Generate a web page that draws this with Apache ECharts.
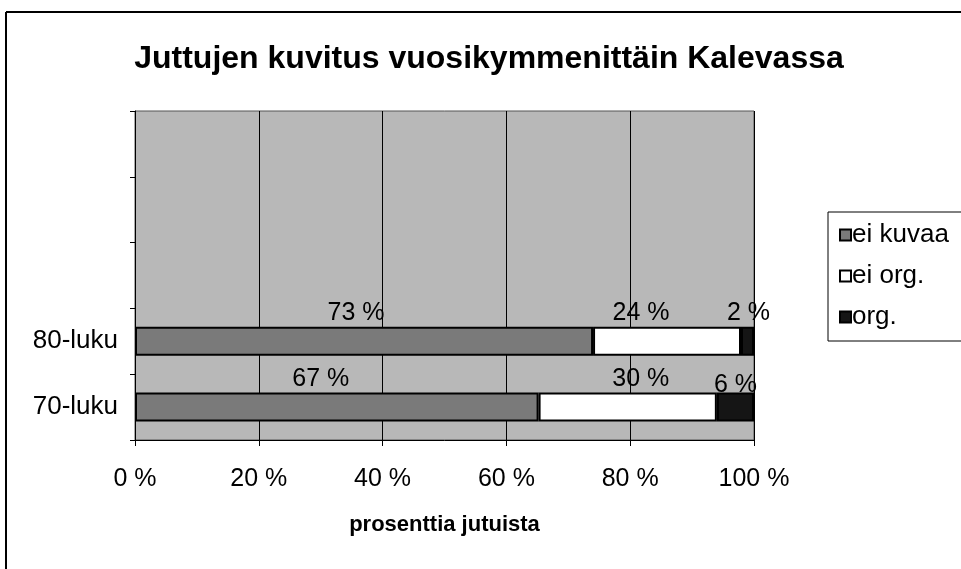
<!DOCTYPE html>
<html>
<head>
<meta charset="utf-8">
<script src="https://cdn.jsdelivr.net/npm/echarts@6/dist/echarts.min.js"></script>
<style>
html,body{margin:0;padding:0;background:#fff;}
#chart{width:961px;height:569px;}
</style>
</head>
<body>
<div id="chart"></div>
<script>
// Categories (bottom to top); the upper three bands are empty in the original
const categories = ['70-luku', '80-luku', '', '', ''];
// Bar lengths as drawn (percent of stories)
const eiKuvaa = [65.2, 74.0, null, null, null];
const eiOrg   = [28.8, 23.9, null, null, null];
const org     = [6.0,  2.1,  null, null, null];
// Data label texts as printed on the chart
const eiKuvaaLabels = ['67 %', '73 %', '', '', ''];
const eiOrgLabels   = ['30 %', '24 %', '', '', ''];
const orgLabels     = ['6 %',  '2 %',  '', '', ''];
const seriesNames = ['ei kuvaa', 'ei org.', 'org.'];
const titleText = 'Juttujen kuvitus vuosikymmenittäin Kalevassa';
const xAxisName = 'prosenttia jutuista';

const FONT = '"Liberation Sans", Arial, sans-serif';
const chart = echarts.init(document.getElementById('chart'), null, {renderer: 'canvas'});

// label nudges (style only) so labels sit where the original placed them
const labelNudge = [
  [[-16, 0], [-8, 0]],
  [[13, 0], [-26, 0]],
  [[0, 6], [1, 0]]
];

function mkSeries(idx, data, labels, color) {
  return {
    name: seriesNames[idx],
    type: 'bar',
    stack: 'total',
    data: data.map((v, i) => (v == null ? null : {
      value: v,
      label: labelNudge[idx][i] ? {offset: labelNudge[idx][i]} : undefined
    })),
    barWidth: 29,
    itemStyle: {color: color, borderColor: '#000', borderWidth: 2},
    label: {
      show: true,
      position: 'top',
      distance: 1,
      color: '#000',
      fontFamily: FONT,
      fontSize: 25,
      formatter: p => labels[p.dataIndex]
    },
    emphasis: {disabled: true}
  };
}

chart.setOption({
  animation: false,
  backgroundColor: '#fff',
  title: {
    text: titleText,
    left: 484,
    textAlign: 'center',
    top: 38,
    textStyle: {fontFamily: FONT, fontSize: 32, fontWeight: 'bold', color: '#000'}
  },
  legend: {
    orient: 'vertical',
    left: 828,
    top: 212,
    padding: [10, 30, 11, 11],
    itemGap: 15,
    itemWidth: 11,
    itemHeight: 11,
    icon: 'rect',
    backgroundColor: '#fff',
    borderColor: '#000',
    borderWidth: 1,
    borderRadius: 0,
    textStyle: {fontFamily: FONT, fontSize: 26, color: '#000', padding: [0, 0, 0, -4]},
    data: seriesNames
  },
  grid: {
    left: 135, right: 207, top: 111, bottom: 129,
    show: true,
    backgroundColor: '#b8b8b8',
    borderColor: '#555',
    borderWidth: 1
  },
  xAxis: {
    type: 'value',
    min: 0, max: 100, interval: 20,
    name: xAxisName,
    nameLocation: 'middle',
    nameGap: 74,
    nameTextStyle: {fontFamily: FONT, fontSize: 22, fontWeight: 'bold', color: '#000'},
    axisLine: {show: true, lineStyle: {color: '#000', width: 1}},
    axisTick: {show: true, inside: false, length: 6, lineStyle: {color: '#000'}},
    axisLabel: {formatter: '{value} %', fontFamily: FONT, fontSize: 25, color: '#000', margin: 27},
    splitLine: {show: true, lineStyle: {color: '#000', width: 1}}
  },
  yAxis: {
    type: 'category',
    data: categories,
    axisLine: {show: true, lineStyle: {color: '#000', width: 1}},
    axisTick: {show: true, inside: false, length: 5, lineStyle: {color: '#000'}},
    axisLabel: {fontFamily: FONT, fontSize: 26, color: '#000', margin: 17},
    splitLine: {show: false}
  },
  graphic: [
    {type: 'line', shape: {x1: 6, y1: 12, x2: 961, y2: 12}, style: {stroke: '#000', lineWidth: 2}},
    {type: 'line', shape: {x1: 6, y1: 12, x2: 6, y2: 569}, style: {stroke: '#000', lineWidth: 2}}
  ],
  series: [
    mkSeries(0, eiKuvaa, eiKuvaaLabels, '#7a7a7a'),
    mkSeries(1, eiOrg, eiOrgLabels, '#ffffff'),
    mkSeries(2, org, orgLabels, '#151515')
  ]
});
</script>
</body>
</html>
